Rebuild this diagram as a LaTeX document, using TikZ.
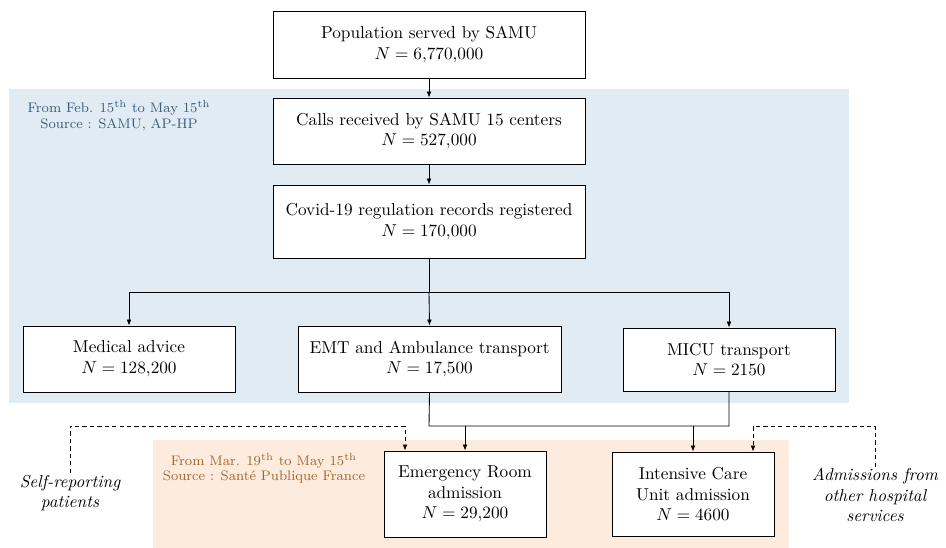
\documentclass[tikz,border=0pt]{standalone}
\usetikzlibrary{arrows.meta}
\definecolor{bluebg}{RGB}{225,235,244}
\definecolor{orangebg}{RGB}{253,235,222}
\definecolor{bluetxt}{RGB}{60,92,122}
\definecolor{orangetxt}{RGB}{165,102,50}
\newcommand\pxu{0.58pt}
\begin{document}
\begin{tikzpicture}[x=0.58pt,y=-0.58pt,
  box/.style={draw, line width=0.5pt, fill=white, align=center, inner sep=2pt},
  conn/.style={line width=0.5pt, -{Latex[length=3.5pt,width=2.8pt]}},
  plain/.style={line width=0.5pt},
  dsh/.style={line width=0.5pt, dash pattern=on 2.5pt off 1.8pt},
  dsharr/.style={dsh, -{Latex[length=3.5pt,width=2.8pt]}},
  note/.style={align=center, font=\footnotesize},
  side/.style={align=center, font=\itshape, inner sep=1pt}]
\useasboundingbox (0,0) rectangle (946,548);
% backgrounds
\fill[bluebg] (9,89) rectangle (849,403);
\fill[orangebg] (153,440) rectangle (789,548);
\node[note, text=bluetxt] (bnote) at (119,116) {From Feb. 15\textsuperscript{th} to May 15\textsuperscript{th}\\Source : SAMU, AP-HP};
\node[note, text=orangetxt] (onote) at (264,468) {From Mar. 19\textsuperscript{th} to May 15\textsuperscript{th}\\[-1pt]Source : Santé Publique France};
% boxes
\node[box, minimum width=312*\pxu, minimum height=67*\pxu] (pop) at (429,44.5) {Population served by SAMU\\$N = 6{,}770{,}000$};
\node[box, minimum width=312*\pxu, minimum height=66*\pxu] (calls) at (429,131) {Calls received by SAMU 15 centers\\$N = 527{,}000$};
\node[box, minimum width=312*\pxu, minimum height=73*\pxu] (covid) at (429,221.5) {Covid-19 regulation records registered\\$N = 170{,}000$};
\node[box, minimum width=212*\pxu, minimum height=66*\pxu] (med) at (129,359) {Medical advice\\$N = 128{,}200$};
\node[box, minimum width=263*\pxu, minimum height=66*\pxu] (emt) at (429.5,359) {EMT and Ambulance transport\\$N = 17{,}500$};
\node[box, minimum width=212*\pxu, minimum height=63*\pxu] (micu) at (729,359.5) {MICU transport\\$N = 2150$};
\node[box, minimum width=162*\pxu, minimum height=86*\pxu] (er) at (465,494) {Emergency Room\\admission\\$N = 29{,}200$};
\node[box, minimum width=162*\pxu, minimum height=84*\pxu] (icu) at (693,494) {Intensive Care\\Unit admission\\$N = 4600$};
\node[side] (sr) at (70,493) {Self-reporting\\patients};
\node[side, inner sep=0.5pt] (adm) at (875,495) {Admissions from\\other hospital\\services};
% connectors
\draw[conn] (pop) -- (calls);
\draw[conn] (calls) -- (covid);
\coordinate (br) at (429,292);
\draw[plain] (covid.south) -- (br);
\draw[conn] (br) -- (emt.north);
\draw[conn] (br) -| (med.north);
\draw[conn] (br) -| (micu.north);
\coordinate (mg) at (429,426);
\draw[plain] (emt.south) -- (mg) -| (micu.south);
\draw[conn] (er.north |- mg) -- (er.north);
\draw[conn] (icu.north |- mg) -- (icu.north);
\coordinate (d1) at (405,426);
\coordinate (d2) at (753,426);
\draw[dsharr] (sr.north) |- (d1) -- (d1 |- er.north);
\draw[dsharr] (adm.north) |- (d2) -- (d2 |- icu.north);
\end{tikzpicture}
\end{document}
